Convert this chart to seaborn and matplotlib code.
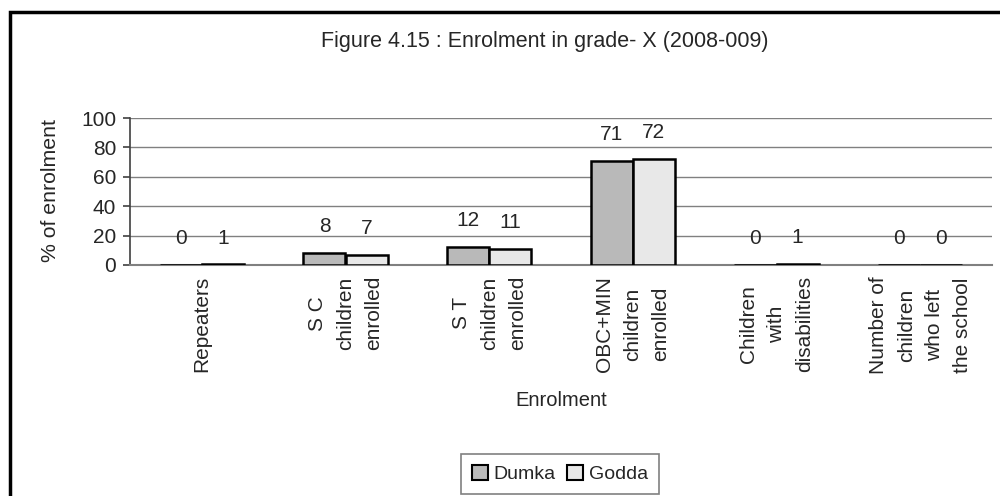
import pandas as pd
import matplotlib.pyplot as plt
import matplotlib.patches as mpatches
import seaborn as sns

# data
categories = ['Repeaters', 'S C\nchildren\nenrolled', 'S T\nchildren\nenrolled',
              'OBC+MIN\nchildren\nenrolled', 'Children\nwith\ndisabilities',
              'Number of\nchildren\nwho left\nthe school']
dumka = [0, 8, 12, 71, 0, 0]
godda = [0.4, 7, 11, 72, 1, 0]
dumka_labels = ['0', '8', '12', '71', '0', '0']
godda_labels = ['1', '7', '11', '72', '1', '0']
districts = ['Dumka', 'Godda']
colors = ['#b9b9b9', '#e8e8e8']

sns.set_style('white')
plt.rcParams['font.family'] = ['Liberation Sans', 'DejaVu Sans']

df = pd.DataFrame({
    'cat': categories * 2,
    'value': dumka + godda,
    'district': ['Dumka'] * len(categories) + ['Godda'] * len(categories),
})

fig = plt.figure(figsize=(10, 4.96), dpi=100)
ax = fig.add_axes([0.13, 1 - 265 / 496, 0.862, 147 / 496])

sns.barplot(data=df, x='cat', y='value', hue='district', order=categories,
            hue_order=districts, palette=colors, width=0.585,
            edgecolor='black', linewidth=1.8, ax=ax, legend=False, zorder=3)

ax.set_ylim(0, 100)
ax.set_xlim(-0.5, len(categories) - 0.5)
ax.set_yticks([0, 20, 40, 60, 80, 100])
ax.set_yticklabels(['0', '20', '40', '60', '80', '100'], fontsize=15)
ax.yaxis.grid(True, color='#808080', linewidth=1)
ax.set_axisbelow(True)

ax.set_xticks(range(len(categories)))
ax.set_xticklabels(categories, rotation=90, fontsize=15, ha='center', va='top',
                   multialignment='center', linespacing=1.6)
ax.set_xticks([i - 0.5 for i in range(len(categories) + 1)], minor=True)
ax.tick_params(axis='x', which='major', length=0, pad=8)
ax.tick_params(axis='x', which='minor', length=5, color='#404040', width=1.2, direction='out')
ax.tick_params(axis='y', length=5, color='#404040', width=1.2, direction='out', pad=5, left=True)
ax.set_xlabel('')
ax.set_ylabel('')

for s in ['top', 'right']:
    ax.spines[s].set_visible(False)
ax.spines['left'].set_color('#404040')
ax.spines['bottom'].set_color('#808080')
ax.spines['left'].set_linewidth(1.2)
ax.spines['bottom'].set_linewidth(1.5)

# value labels above each bar
for container, labs in zip(ax.containers, [dumka_labels, godda_labels]):
    for bar, lab in zip(container, labs):
        ax.annotate(lab, (bar.get_x() + bar.get_width() / 2, bar.get_height()),
                    xytext=(0, 19), textcoords='offset points',
                    ha='center', va='center', fontsize=15, annotation_clip=False)

fig.text(0.545, 1 - 42 / 496, 'Figure 4.15 : Enrolment in grade- X (2008-009)',
         ha='center', va='center', fontsize=15.5)
fig.text(0.051, 1 - 191 / 496, '% of enrolment', rotation=90,
         ha='center', va='center', fontsize=15.3)
fig.text(0.561, 1 - 400 / 496, 'Enrolment', ha='center', va='center', fontsize=14.5)

handles = [mpatches.Patch(facecolor=c, edgecolor='black', linewidth=1.5, label=d)
           for c, d in zip(colors, districts)]
leg = fig.legend(handles=handles, loc='center', bbox_to_anchor=(0.56, 1 - 474 / 496),
                 ncol=2, fontsize=14, frameon=True, fancybox=False,
                 handlelength=0.8, handleheight=0.8, handletextpad=0.3,
                 columnspacing=0.6, borderpad=0.55)
leg.get_frame().set_edgecolor('#606060')
leg.get_frame().set_linewidth(1.2)

# outer chart frame (only left and top edges visible)
fig.add_artist(mpatches.Rectangle((0.01, -0.1), 1.2, 1.076, transform=fig.transFigure,
                                  fill=False, edgecolor='black', linewidth=2.5))

fig.savefig('out.png', dpi=100)
